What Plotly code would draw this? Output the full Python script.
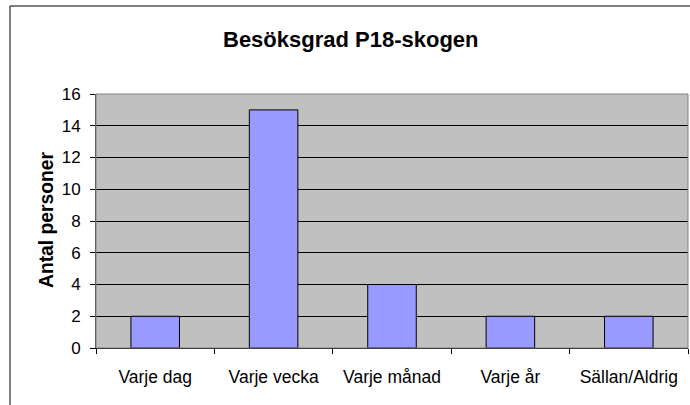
import plotly.graph_objects as go

categories = ["Varje dag", "Varje vecka", "Varje månad", "Varje år", "Sällan/Aldrig"]
values = [2, 15, 4, 2, 2]
y_ticks = [0, 2, 4, 6, 8, 10, 12, 14, 16]

W, H = 690, 405
L, R, T, B = 96, 2, 94, 57
pw, ph = W - L - R, H - T - B

fig = go.Figure(go.Bar(
    x=categories, y=values,
    marker=dict(color="#9999FF", line=dict(color="black", width=1)),
    width=0.41,
))

def px(x):
    return (x - L) / pw

def py(y):
    return (H - B - y) / ph

fig.update_layout(
    width=W, height=H,
    margin=dict(l=L, r=R, t=T, b=B, autoexpand=False),
    paper_bgcolor="white",
    plot_bgcolor="#C0C0C0",
    font=dict(family="Liberation Sans, Arial, sans-serif", size=17, color="black"),
    showlegend=False,
    xaxis=dict(
        showgrid=False, ticks="outside", tickson="boundaries", ticklen=5,
        tickcolor="black", showline=True, linecolor="black", linewidth=1,
        tickfont=dict(size=17.5), fixedrange=True, ticklabelstandoff=13,
    ),
    yaxis=dict(
        range=[0, 16], tickvals=y_ticks, showgrid=True, gridcolor="black",
        gridwidth=1, ticks="outside", ticklen=5, tickcolor="black",
        showline=True, linecolor="#404040", linewidth=1, zeroline=False,
        tickfont=dict(size=17), fixedrange=True, ticklabelstandoff=6,
    ),
    shapes=[
        dict(type="rect", xref="paper", yref="paper", x0=0, x1=1, y0=0, y1=1,
             line=dict(color="#808080", width=1), layer="above"),
        dict(type="rect", xref="paper", yref="paper",
             x0=px(10), x1=px(705), y0=py(420), y1=py(6),
             line=dict(color="black", width=1)),
    ],
    annotations=[
        dict(text="<b>Besöksgrad P18-skogen</b>", xref="paper", yref="paper",
             x=px(351), y=py(40), showarrow=False, font=dict(size=22),
             xanchor="center", yanchor="middle"),
        dict(text="<b>Antal personer</b>", xref="paper", yref="paper",
             x=px(46), y=py(220), showarrow=False, font=dict(size=19.3),
             textangle=-90, xanchor="center", yanchor="middle"),
    ],
)

fig.write_html("out.html", config={"displayModeBar": False},
               post_script="document.body.style.margin='0';document.body.style.overflow='hidden';")
